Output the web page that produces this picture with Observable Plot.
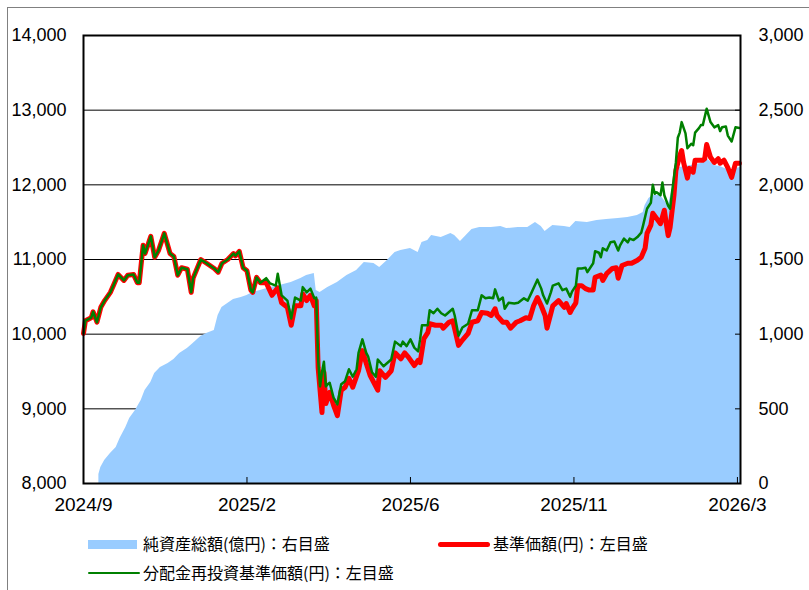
<!DOCTYPE html>
<html><head><meta charset="utf-8">
<script src="https://cdn.jsdelivr.net/npm/d3@7"></script>
<script src="https://cdn.jsdelivr.net/npm/@observablehq/plot@0.6"></script>
<style>
body{margin:0;background:#fff;}
#wrap{position:relative;width:809px;height:590px;overflow:hidden;font-family:"Noto Sans CJK JP",sans-serif;}
#border{position:absolute;left:7px;top:7px;width:820px;height:600px;border-top:1px solid #808080;border-left:1px solid #808080;}
#chart{position:absolute;left:0;top:0;}
.lg{position:absolute;font-size:16px;line-height:18px;color:#000;white-space:nowrap;}
.sw{position:absolute;}
</style></head>
<body><div id="wrap"><div id="border"></div><div id="chart"></div><div id="legend"></div></div>
<script>
// x axis: trading-day index, labelled at regular intervals
const xTickDays = [0, 85, 170, 255, 340];
const xTickLabels = ["2024/9", "2025/2", "2025/6", "2025/11", "2026/3"];
const xMaxDay = 341.6;
const leftTicks = [8000, 9000, 10000, 11000, 12000, 13000, 14000];
const rightTicks = [0, 500, 1000, 1500, 2000, 2500, 3000];

// 基準価額(円) [day, value]
const nav = [[0,10010],[1,10180],[4,10220],[5,10300],[7,10160],[9,10360],[11,10450],[14,10560],[16,10680],[18,10800],[21,10720],[23,10790],[26,10800],[28,10690],[29,10690],[31,11190],[32,11080],[35,11310],[37,11030],[39,11120],[42,11350],[45,11080],[47,11040],[49,10790],[51,10890],[54,10870],[56,10560],[57,10750],[61,11000],[64,10950],[68,10880],[70,10830],[72,10950],[75,11000],[78,11080],[79,11050],[81,11110],[83,10890],[85,10850],[87,10590],[88,10560],[90,10760],[92,10690],
[95,10690],[98,10520],[101,10620],[103,10420],[106,10360],[108,10120],[110,10380],[113,10380],[114,10540],[116,10450],[118,10520],[120,10380],[121,10450],[122,9550],[124,8950],[125,9490],[126,9070],[128,9220],[130,9050],[132,8910],[134,9250],[136,9290],[138,9410],[140,9290],[143,9510],[145,9780],[147,9610],[149,9450],[153,9250],[154,9510],[157,9420],[160,9510],[162,9750],[165,9670],[167,9750],[169,9690],[172,9580],[174,9650],[175,9620],[177,9940],[179,10020],[180,10140],[183,10120],[186,10120],[187,10080],[190,10160],[192,10180],[195,9850],[197,9920],[200,10010],[202,10160],[205,10180],[207,10290],[210,10280],[212,10250],[214,10340],[215,10250],[218,10160],[220,10160],[222,10080],[225,10160],[227,10180],[230,10220],[232,10210],[234,10380],[236,10490],[238,10380],[240,10250],[241,10080],[243,10280],[244,10380],[247,10450],[250,10360],[251,10410],[253,10290],[254,10340],[256,10420],[257,10650],[259,10650],[261,10610],[263,10590],[265,10590],[266,10760],[269,10790],[270,10720],[272,10810],[275,10880],[277,10890],[278,10750],[280,10920],[283,10950],[285,10950],[288,10990],[290,11030],[292,11150],[293,11350],[295,11460],[296,11620],[298,11550],[300,11480],[302,11660],[303,11480],[304,11320],[305,11430],[307,11860],[308,12190],[310,12390],[311,12460],[312,12300],[314,12090],[315,12220],[317,12170],[318,12330],[320,12330],[322,12330],[323,12350],[324,12540],[326,12370],[328,12300],[330,12350],[331,12290],[333,12330],[335,12230],[337,12100],[339,12290],[341,12290]];

// 分配金再投資基準価額(円) [day, value]
const reinvested = [[0,10010],[1,10180],[4,10220],[5,10300],[7,10160],[9,10360],[11,10450],[14,10560],[16,10680],[18,10800],[21,10720],[23,10790],[26,10800],[28,10690],[29,10690],[31,11190],[32,11080],[35,11310],[37,11030],[39,11120],[42,11350],[45,11080],[47,11040],[49,10790],[51,10890],[54,10870],[56,10560],[57,10750],[61,11000],[64,10950],[68,10880],[70,10830],[72,10950],[75,11000],[78,11080],[79,11050],[81,11110],[83,10890],[85,10850],[87,10590],[88,10560],[90,10760],[92,10690],
[95,10750],[97,10680],[100,10650],[101,10810],[103,10520],[106,10450],[108,10210],[110,10490],[113,10450],[114,10630],[116,10560],[118,10610],[120,10480],[121,10490],[122,9660],[123,9300],[124,9490],[125,9630],[126,9300],[127,9330],[128,9350],[130,9150],[132,9060],[134,9330],[136,9370],[138,9530],[140,9430],[142,9530],[143,9750],[145,9930],[147,9750],[148,9700],[150,9490],[152,9430],[153,9660],[156,9570],[160,9660],[162,9900],[165,9840],[166,9900],[168,9840],[170,9930],[172,9820],[174,9770],[175,9930],[176,10120],[179,10120],[180,10320],[182,10280],[184,10340],[186,10280],[188,10250],[192,10340],[193,10250],[195,9980],[197,10090],[200,10140],[202,10320],[205,10320],[207,10520],[209,10480],[211,10490],[213,10480],[214,10600],[216,10450],[218,10490],[219,10340],[221,10420],[224,10410],[226,10420],[229,10480],[231,10450],[233,10560],[236,10730],[238,10610],[239,10520],[241,10410],[243,10560],[244,10650],[247,10680],[249,10590],[251,10610],[253,10500],[254,10570],[256,10650],[257,10880],[259,10880],[261,10890],[262,10830],[265,10950],[266,11110],[268,11090],[269,11030],[270,11150],[272,11120],[274,11230],[276,11240],[278,11120],[279,11190],[281,11280],[283,11230],[284,11280],[286,11260],[288,11300],[290,11360],[291,11460],[293,11680],[295,11760],[296,12000],[297,11880],[298,11900],[300,11860],[301,12030],[302,11860],[304,11720],[305,11680],[306,11900],[308,12300],[309,12630],[310,12700],[311,12840],[313,12690],[314,12490],[316,12550],[317,12530],[318,12700],[320,12760],[321,12800],[322,12800],[324,13020],[326,12840],[328,12770],[330,12800],[331,12720],[332,12770],[334,12780],[335,12660],[337,12580],[339,12770],[341,12760]];

// 純資産総額(億円) [day, value]
const netAssets = [[8,60],[9,107],[11,154],[14,201],[17,241],[19,301],[22,375],[24,435],[27,489],[30,556],[32,623],[35,676],[37,737],[40,777],[44,804],[47,830],[50,870],[54,904],[57,937],[61,984],[64,1004],[68,1024],[70,1125],[72,1178],[75,1205],[78,1232],[82,1245],[85,1259],[88,1279],[92,1292],[97,1312],[102,1326],[108,1346],[113,1373],[116,1393],[120,1406],[121,1292],[123,1279],[127,1312],[132,1346],[137,1393],[142,1426],[146,1480],[151,1473],[154,1446],[158,1493],[162,1547],[165,1560],[170,1574],[174,1547],[176,1614],[179,1627],[181,1661],[186,1647],[191,1674],[193,1661],[196,1620],[199,1661],[202,1701],[206,1714],[212,1714],[217,1721],[220,1707],[226,1714],[231,1714],[235,1748],[238,1721],[240,1687],[244,1728],[250,1721],[253,1714],[256,1754],[262,1748],[267,1761],[272,1768],[278,1775],[283,1781],[288,1795],[291,1815],[292,1862],[294,1908],[296,1928],[300,1928],[304,1862],[306,1962],[308,2062],[310,2116],[316,2129],[321,2143],[324,2176],[328,2129],[331,2123],[336,2096],[339,2109],[341.6,2116]];

// right axis (億円) mapped onto left scale (円)
const toLeft = v => 8000 + v * 2;

const chart = Plot.plot({
  width: 809, height: 520,
  marginLeft: 83, marginRight: 69, marginTop: 35, marginBottom: 37,
  style: {fontFamily: "'Liberation Sans', Arial, sans-serif", fontSize: "18px", color: "#000", background: "transparent"},
  x: {type: "linear", domain: [0, xMaxDay]},
  y: {domain: [8000, 14000]},
  marks: [
    Plot.gridY(leftTicks.slice(1, -1), {stroke: "#000", strokeOpacity: 1, strokeWidth: 1}),
    Plot.areaY(netAssets, {x: d => d[0], y1: 8000, y2: d => toLeft(d[1]), fill: "#99CCFF", curve: "linear"}),
    Plot.line(nav, {x: d => d[0], y: d => d[1], stroke: "#FF0000", strokeWidth: 5, strokeLinejoin: "round"}),
    Plot.line(reinvested, {x: d => d[0], y: d => d[1], stroke: "#008000", strokeWidth: 2.5, strokeLinejoin: "round"}),
    Plot.gridX(xTickDays, {stroke: "#000", strokeOpacity: 1, strokeWidth: 1, insetTop: 442}),
    Plot.gridY(rightTicks.map(toLeft), {stroke: "#000", strokeOpacity: 1, strokeWidth: 1, insetLeft: 652}),
    Plot.frame({stroke: "#000", strokeWidth: 2}),
    Plot.axisY(leftTicks, {anchor: "left", tickSize: 0, tickPadding: 17, tickFormat: d3.format(","), fill: "#000"}),
    Plot.axisY(rightTicks.map(toLeft), {anchor: "right", tickSize: 0, tickPadding: 18, tickFormat: v => d3.format(",")((v - 8000) / 2), fill: "#000"}),
    Plot.axisX(xTickDays, {anchor: "bottom", tickSize: 0, tickPadding: 14, fontSize: 19, tickFormat: (d, i) => xTickLabels[i], fill: "#000"})
  ]
});
document.getElementById("chart").appendChild(chart);

// legend
const legendItems = [
  {label: "純資産総額(億円)：右目盛", kind: "area", color: "#99CCFF", x: 88, y: 544},
  {label: "基準価額(円)：左目盛", kind: "line", color: "#FF0000", width: 5, x: 438, y: 544},
  {label: "分配金再投資基準価額(円)：左目盛", kind: "line", color: "#008000", width: 2.5, x: 88, y: 573}
];
const lg = document.getElementById("legend");
for (const it of legendItems) {
  const sw = document.createElement("div");
  sw.className = "sw";
  const h = it.kind === "area" ? 9 : it.width;
  sw.style.left = it.x + "px";
  sw.style.width = (it.kind === "area" ? 49 : 52) + "px";
  sw.style.top = (it.y - h / 2) + "px";
  sw.style.height = h + "px";
  sw.style.background = it.color;
  if (it.kind === "line") sw.style.borderRadius = (h / 2) + "px";
  lg.appendChild(sw);
  const t = document.createElement("div");
  t.className = "lg";
  t.textContent = it.label;
  t.style.left = (it.x + 55) + "px";
  t.style.top = (it.y - 10) + "px";
  lg.appendChild(t);
}
</script></body></html>
